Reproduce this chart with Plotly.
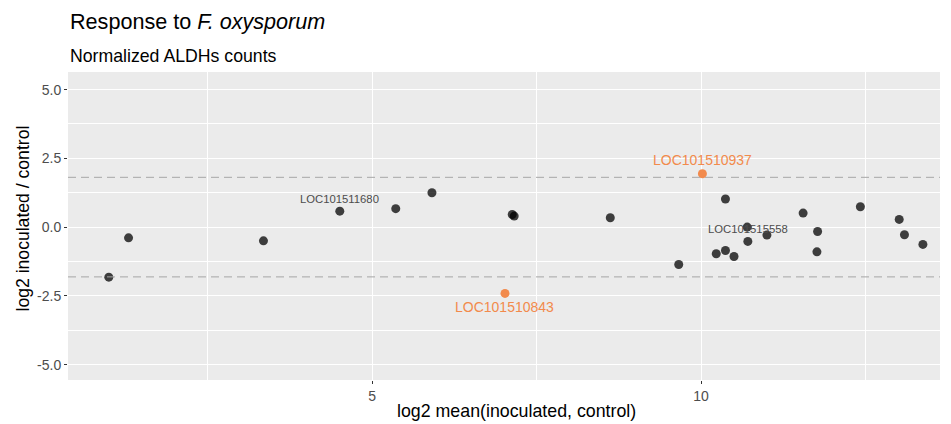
import plotly.graph_objects as go

# Data
mean_x = [1.00, 1.30, 3.35, 4.51, 5.36, 5.91, 7.13, 7.16, 8.62, 9.66, 10.37, 10.23,
          10.37, 10.50, 10.70, 10.71, 11.00, 11.55, 11.77, 11.76, 12.42, 13.01, 13.09, 13.37]
ratio_y = [-1.82, -0.39, -0.50, 0.58, 0.67, 1.25, 0.46, 0.40, 0.34, -1.36, 1.02, -0.97,
           -0.85, -1.07, 0.00, -0.52, -0.29, 0.51, -0.16, -0.90, 0.74, 0.28, -0.28, -0.63]
grey_names = ["LOC101511680", "LOC101515558"]
grey_x = [4.51, 10.71]
grey_y = [0.58, -0.52]

hl_names = ["LOC101510843", "LOC101510937"]
hl_x = [7.02, 10.02]
hl_y = [-2.41, 1.94]

threshold = 1.81
x_ticks = [5, 10]
y_ticks = [-5.0, -2.5, 0.0, 2.5, 5.0]
y_ticklabels = ["-5.0", "-2.5", "0.0", "2.5", "5.0"]

FONT = "Liberation Sans, Arial, Helvetica, sans-serif"
ORANGE = "#F28A4C"
W, H = 951, 424
L, R, T, B = 68, 11, 72, 44
PW, PH = W - L - R, H - T - B

fig = go.Figure()
fig.add_trace(go.Scatter(
    x=mean_x, y=ratio_y, mode="markers",
    marker=dict(size=9, color="rgba(0,0,0,0.74)", line=dict(width=0)),
    hoverinfo="skip", showlegend=False))
fig.add_trace(go.Scatter(
    x=hl_x, y=hl_y, mode="markers",
    marker=dict(size=9, color=ORANGE, line=dict(width=0)),
    hoverinfo="skip", showlegend=False))

for yv in [threshold, -threshold]:
    fig.add_hline(y=yv, line=dict(color="#A6A6A6", width=1, dash="8px,5px"))

for name, xv, yv in zip(grey_names, grey_x, grey_y):
    fig.add_annotation(x=xv, y=yv, text=name, showarrow=False, yshift=12,
                       font=dict(family=FONT, size=11.3, color="#4D4D4D"))
shifts = [-14, 14]
for name, xv, yv, s in zip(hl_names, hl_x, hl_y, shifts):
    fig.add_annotation(x=xv, y=yv, text=name, showarrow=False, yshift=s,
                       font=dict(family=FONT, size=14, color=ORANGE))

# title, subtitle, axis titles
fig.add_annotation(xref="paper", yref="paper", x=0, y=1 + (T - 22) / PH,
                   xanchor="left", yanchor="middle",
                   text="Response to <i>F. oxysporum</i>", showarrow=False,
                   font=dict(family=FONT, size=21.6, color="black"))
fig.add_annotation(xref="paper", yref="paper", x=0, y=1 + (T - 56) / PH,
                   xanchor="left", yanchor="middle",
                   text="Normalized ALDHs counts", showarrow=False,
                   font=dict(family=FONT, size=17.7, color="black"))
fig.add_annotation(xref="paper", yref="paper", x=(516 - L) / PW, y=-(411 - (H - B)) / PH,
                   xanchor="center", yanchor="middle",
                   text="log2 mean(inoculated, control)", showarrow=False,
                   font=dict(family=FONT, size=17.8, color="black"))
fig.add_annotation(xref="paper", yref="paper", x=-(L - 22) / PW, y=1 - (218.5 - T) / PH,
                   xanchor="center", yanchor="middle", textangle=-90,
                   text="log2 inoculated / control", showarrow=False,
                   font=dict(family=FONT, size=17.6, color="black"))

fig.update_layout(
    width=W, height=H,
    margin=dict(l=L, r=R, t=T, b=B, autoexpand=False),
    paper_bgcolor="white", plot_bgcolor="#EBEBEB",
    font=dict(family=FONT, color="black"),
)
fig.update_xaxes(
    range=[0.38, 13.63], tickvals=x_ticks, ticktext=[str(v) for v in x_ticks],
    showgrid=True, gridcolor="white", gridwidth=1.2,
    minor=dict(tickvals=[2.5, 7.5, 12.5], showgrid=True, gridcolor="white", gridwidth=0.6),
    zeroline=False, ticks="outside", ticklen=3, tickcolor="#333333",
    tickfont=dict(family=FONT, size=14, color="#4D4D4D"), automargin=False,
)
fig.update_yaxes(
    range=[-5.56, 5.64], tickvals=y_ticks, ticktext=y_ticklabels,
    showgrid=True, gridcolor="white", gridwidth=1.2,
    minor=dict(tickvals=[-3.75, -1.25, 1.25, 3.75], showgrid=True, gridcolor="white", gridwidth=0.6),
    zeroline=False, ticks="outside", ticklen=3, tickcolor="#333333",
    tickfont=dict(family=FONT, size=14, color="#4D4D4D"), automargin=False,
)

fig.write_html("out.html", config={"displayModeBar": False},
               post_script="document.body.style.margin='0';document.body.style.overflow='hidden';")
